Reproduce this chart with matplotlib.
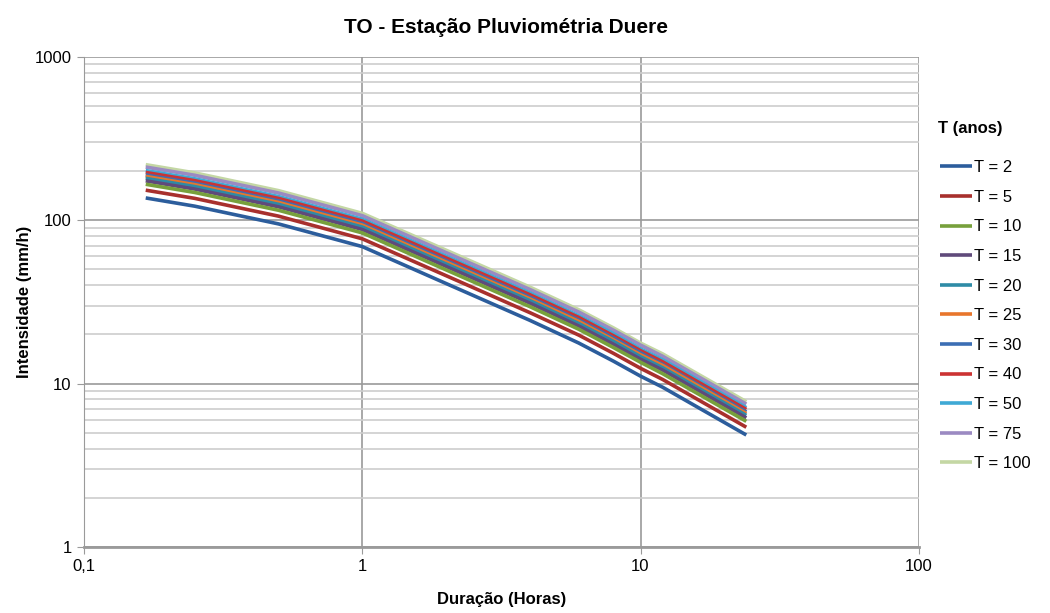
# curvas IDF - estacao Duere
import matplotlib
matplotlib.use('Agg')
from matplotlib import pyplot as plt
from matplotlib.ticker import FixedLocator, FixedFormatter, LogLocator, NullFormatter

plt.rcParams['font.family'] = ['Liberation Sans', 'DejaVu Sans']

# duracoes (horas)
duracao = [1 / 6, 0.25, 0.5, 1, 2, 4, 6, 8, 10, 12, 24]

# intensidades (mm/h) por periodo de retorno
t2 = [137.0, 122.0, 95.0, 69.0, 41.0, 24.4, 17.7, 13.7, 11.1, 9.5, 4.84]
t5 = [152.9, 136.2, 106.0, 77.0, 45.8, 27.2, 19.8, 15.3, 12.4, 10.6, 5.40]
t10 = [166.2, 148.0, 115.2, 83.7, 49.7, 29.6, 21.5, 16.6, 13.5, 11.5, 5.87]
t15 = [174.4, 155.3, 120.9, 87.8, 52.2, 31.1, 22.5, 17.4, 14.1, 12.1, 6.16]
t20 = [180.6, 160.8, 125.2, 90.9, 54.0, 32.2, 23.3, 18.1, 14.6, 12.5, 6.38]
t25 = [185.5, 165.2, 128.6, 93.4, 55.5, 33.0, 24.0, 18.5, 15.0, 12.9, 6.55]
t30 = [189.6, 168.8, 131.5, 95.5, 56.7, 33.8, 24.5, 19.0, 15.4, 13.1, 6.70]
t40 = [196.3, 174.8, 136.1, 98.9, 58.8, 35.0, 25.4, 19.6, 15.9, 13.6, 6.94]
t50 = [201.5, 179.5, 139.7, 101.5, 60.3, 35.9, 26.0, 20.2, 16.3, 14.0, 7.12]
t75 = [211.8, 188.6, 146.9, 106.7, 63.4, 37.7, 27.4, 21.2, 17.2, 14.7, 7.48]
t100 = [219.1, 195.1, 151.9, 110.3, 65.6, 39.0, 28.3, 21.9, 17.7, 15.2, 7.74]

series = [t2, t5, t10, t15, t20, t25, t30, t40, t50, t75, t100]
rotulos = ['T = 2', 'T = 5', 'T = 10', 'T = 15', 'T = 20', 'T = 25',
           'T = 30', 'T = 40', 'T = 50', 'T = 75', 'T = 100']
cores = ['#2C5D9C', '#A8302D', '#77A03C', '#604A7B', '#2E8BA6', '#E8762C',
         '#3C6EB4', '#CC3333', '#3FA9D5', '#9B8AC2', '#C4D7A4']

fig = plt.figure(figsize=(10.5, 6.13), dpi=100)
ax = fig.add_axes([0.08, 0.108, 0.795, 0.799])

# desenha do maior para o menor T para manter a ordem visual
for i in range(len(series) - 1, -1, -1):
    ax.plot(duracao, series[i], color=cores[i], lw=2.6, label=rotulos[i],
            solid_capstyle='butt', zorder=3)

ax.set_xscale('log')
ax.set_yscale('log')
ax.set_xlim(0.1, 100)
ax.set_ylim(1, 1000)

ax.xaxis.set_major_locator(FixedLocator([0.1, 1, 10, 100]))
ax.xaxis.set_major_formatter(FixedFormatter(['0,1', '1', '10', '100']))
ax.xaxis.set_minor_locator(FixedLocator([]))
ax.yaxis.set_major_locator(FixedLocator([1, 10, 100, 1000]))
ax.yaxis.set_major_formatter(FixedFormatter(['1', '10', '100', '1000']))
ax.yaxis.set_minor_locator(LogLocator(base=10, subs=range(2, 10)))
ax.yaxis.set_minor_formatter(NullFormatter())

ax.grid(True, which='major', axis='both', color='#9A9A9A', lw=1.2, zorder=1)
ax.grid(True, which='minor', axis='y', color='#CDCDCD', lw=1.2, zorder=1)

for s in ['top', 'right']:
    ax.spines[s].set_visible(False)
ax.spines['left'].set_color('#9A9A9A')
ax.spines['bottom'].set_color('#9A9A9A')
ax.spines['bottom'].set_linewidth(2)
ax.tick_params(which='major', length=5, color='#9A9A9A', labelsize=12, pad=4)
ax.tick_params(which='minor', length=0)

ax.set_xlabel('Duração (Horas)', fontsize=12, fontweight='bold', labelpad=13)
ax.set_ylabel('Intensidade (mm/h)', fontsize=12, fontweight='bold', labelpad=2)
fig.text(0.482, 0.955, 'TO - Estação Pluviométria Duere', ha='center', va='center',
         fontsize=15, fontweight='bold')

# legenda
fig.text(0.893, 0.790, 'T (anos)', ha='left', va='center', fontsize=12, fontweight='bold')
h, l = ax.get_legend_handles_labels()
fig.legend(h[::-1], l[::-1], loc='upper left', bbox_to_anchor=(0.881, 0.763),
           frameon=False, fontsize=12, handlelength=1.9, handletextpad=0.15,
           labelspacing=0.875)

plt.savefig('out.png', dpi=100)
